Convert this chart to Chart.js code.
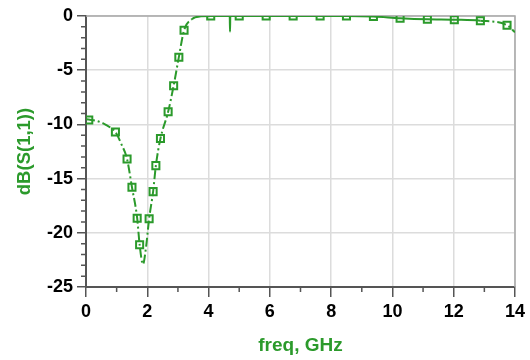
<!DOCTYPE html>
<html>
<head>
<meta charset="utf-8">
<script src="https://cdn.jsdelivr.net/npm/chart.js@4.4.1/dist/chart.umd.min.js"></script>
<style>
  html, body { margin: 0; padding: 0; background: #fff; }
  #wrap { width: 530px; height: 360px; }
</style>
</head>
<body>
<div id="wrap"><canvas id="s11Chart"></canvas></div>
<script>
// S11 trace (freq in GHz, dB)
const lineFreq = [0, 0.09, 0.3, 0.56, 0.8, 0.96, 1.15, 1.34, 1.5, 1.67, 1.75, 1.86, 1.96, 2.06, 2.19, 2.28, 2.43, 2.68, 2.86, 3.03, 3.2, 3.45, 3.75, 4.07, 4.69, 4.7, 4.71, 5.0, 5.88, 6.76, 7.64, 8.5, 9.38, 10.25, 11.14, 12.02, 12.87, 13.74, 14];
const lineDb   = [-9.5, -9.55, -9.65, -9.9, -10.3, -10.7, -11.8, -13.2, -15.8, -18.65, -21.1, -22.9, -21.3, -18.7, -16.2, -13.8, -11.3, -8.84, -6.43, -3.8, -1.32, -0.3, -0.03, 0, 0, -1.45, 0, 0, 0, 0, 0, 0, -0.05, -0.2, -0.3, -0.34, -0.43, -0.85, -1.5];

// square markers
const markerFreq = [0.09, 0.96, 1.34, 1.5, 1.67, 1.75, 2.06, 2.19, 2.28, 2.43, 2.68, 2.86, 3.03, 3.2, 4.07, 5.0, 5.88, 6.76, 7.64, 8.5, 9.38, 10.25, 11.14, 12.02, 12.87, 13.74];
const markerDb   = [-9.6, -10.7, -13.2, -15.8, -18.65, -21.1, -18.7, -16.2, -13.8, -11.3, -8.84, -6.43, -3.8, -1.32, 0, 0, 0, 0, 0, 0, -0.05, -0.2, -0.3, -0.34, -0.43, -0.85];

const xLabelTicks = [0, 2, 4, 6, 8, 10, 12, 14];
const yLabelTicks = [0, -5, -10, -15, -20, -25];

const green = '#2b9a2b';
const ctx = document.getElementById('s11Chart').getContext('2d');

// frame on top/right plus small minor tick marks
const framePlugin = {
    id: 'frame',
    beforeDatasetsDraw(chart) {
        const a = chart.chartArea;
        const c = chart.ctx;
        c.save();
        c.strokeStyle = '#a8a8a8';
        c.lineWidth = 1.5;
        c.beginPath();
        c.moveTo(a.left, a.top);
        c.lineTo(a.right, a.top);
        c.lineTo(a.right, a.bottom);
        c.stroke();
        c.restore();
    },
    afterDraw(chart) {
        const a = chart.chartArea;
        const c = chart.ctx;
        const xs = chart.scales.x;
        const ys = chart.scales.y;
        c.save();
        c.strokeStyle = '#555';
        c.lineWidth = 1.5;
        c.beginPath();
        for (let v = 1; v < 14; v += 2) {
            const px = xs.getPixelForValue(v);
            c.moveTo(px, a.bottom);
            c.lineTo(px, a.bottom + 5);
        }
        for (let v = -24; v < 0; v++) {
            if (v % 5 === 0) continue;
            const py = ys.getPixelForValue(v);
            c.moveTo(a.left - 5, py);
            c.lineTo(a.left, py);
        }
        c.stroke();
        c.restore();
    }
};

new Chart(ctx, {
    type: 'scatter',
    data: {
        datasets: [{
            data: lineFreq.map((f, i) => ({ x: f, y: lineDb[i] })),
            showLine: true,
            borderColor: green,
            borderWidth: 2,
            pointRadius: 0,
            cubicInterpolationMode: 'monotone',
            segment: {
                borderDash: c => (c.p0.parsed.x >= 3.4 && c.p1.parsed.x <= 12.9) ? [] : [9, 3, 2, 3]
            }
        }, {
            data: markerFreq.map((f, i) => ({ x: f, y: markerDb[i] })),
            showLine: false,
            pointStyle: 'rect',
            pointRadius: 5,
            borderWidth: 2,
            borderColor: green,
            backgroundColor: 'rgba(0,0,0,0)'
        }]
    },
    options: {
        responsive: true,
        maintainAspectRatio: false,
        animation: false,
        layout: { padding: { top: 16, right: 15, left: 0, bottom: 0 } },
        plugins: {
            legend: { display: false },
            tooltip: { enabled: false }
        },
        scales: {
            x: {
                type: 'linear',
                min: 0,
                max: 14,
                afterFit: s => { s.height = 73; },
                ticks: {
                    stepSize: 2,
                    padding: 4,
                    color: '#000',
                    font: { family: 'Liberation Sans, Arial', size: 18, weight: 'bold' },
                    callback: v => xLabelTicks.includes(v) ? v : ''
                },
                grid: { color: '#dcdcdc', lineWidth: 1.5, tickLength: 10, tickColor: '#555' },
                border: { color: '#555', width: 2 },
                title: {
                    display: true,
                    text: 'freq, GHz',
                    color: green,
                    font: { family: 'Liberation Sans, Arial', size: 19, weight: 'bold' },
                    padding: { top: 0, bottom: 3 }
                }
            },
            y: {
                type: 'linear',
                min: -25,
                max: 0,
                afterFit: s => { s.width = 86; },
                ticks: {
                    stepSize: 5,
                    padding: 4,
                    color: '#000',
                    font: { family: 'Liberation Sans, Arial', size: 18, weight: 'bold' },
                    callback: v => yLabelTicks.includes(v) ? v : ''
                },
                grid: { color: '#dcdcdc', lineWidth: 1.5, tickLength: 9, tickColor: '#555' },
                border: { color: '#555', width: 2 },
                title: {
                    display: true,
                    text: 'dB(S(1,1))',
                    color: green,
                    font: { family: 'Liberation Sans, Arial', size: 18.5, weight: 'bold' },
                    padding: { top: 14, bottom: 0 }
                }
            }
        }
    },
    plugins: [framePlugin]
});
</script>
</body>
</html>
